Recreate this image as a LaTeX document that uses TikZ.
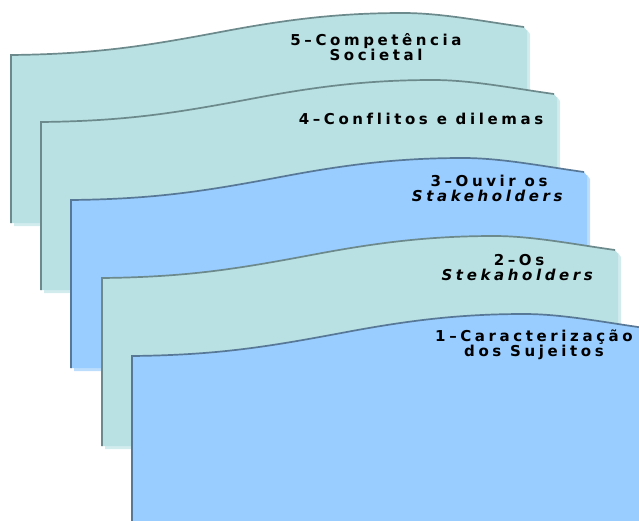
\documentclass[tikz,border=0pt]{standalone}
\usepackage{fontspec}
\newfontfamily\fonteRotulo{DejaVu Sans}[LetterSpace=24, Ligatures=NoCommon]

\definecolor{verdeF}{RGB}{185,224,226}
\definecolor{verdeL}{RGB}{108,137,139}
\definecolor{verdeS}{RGB}{210,236,238}
\definecolor{azulF}{RGB}{153,204,255}
\definecolor{azulL}{RGB}{88,120,152}
\definecolor{azulS}{RGB}{188,222,252}

\tikzset{
  rotulo/.style={font=\fonteRotulo\bfseries\fontsize{15}{15}\selectfont,
    align=center, inner sep=0pt},
}

% top edge of a sheet, relative to its top left corner
\newcommand{\topo}{.. controls (90,-1) and (140,-10) .. (220,-25)
  .. controls (280,-36) and (330,-42) .. (392,-42)
  .. controls (430,-42) and (470,-34) .. (513,-28)}

\begin{document}
\begin{tikzpicture}[x=1pt,y=-1pt]
  \useasboundingbox (0,0) rectangle (639,520);
  \clip (0,0) rectangle (639,520);

  % sheets, from the back to the front
  \foreach \x/\y/\cor in {11/55/verde, 41/122/verde, 71/200/azul, 102/278/verde, 132/356/azul}{
    \begin{scope}[shift={(\x,\y)}]
      \fill[fill=\cor S, shift={(3,3)}] (0,168) -- (0,0) \topo -- (516,-24) -- (516,168) -- cycle;
      \fill[fill=\cor F] (0,168) -- (0,0) \topo -- (516,-24) -- (516,168) -- cycle;
      \draw[draw=\cor L, line width=1.7pt] (0,168) -- (0,0) \topo;
    \end{scope}
  }

  \node[rotulo] (Nivel5) at (376,47.5) {5–Competência\\Societal};
  \node[rotulo] (Nivel4) at (421,118.5) {4–Conflitos e dilemas};
  \node[rotulo] (Nivel3) at (489,188.5) {3–Ouvir os\\\textit{Stakeholders}};
  \node[rotulo] (Nivel2) at (519,267.5) {2–Os\\\textit{Stekaholders}};
  \node[rotulo] (Nivel1) at (534,344.5) {1–Caracterização\\dos Sujeitos};

\end{tikzpicture}
\end{document}
